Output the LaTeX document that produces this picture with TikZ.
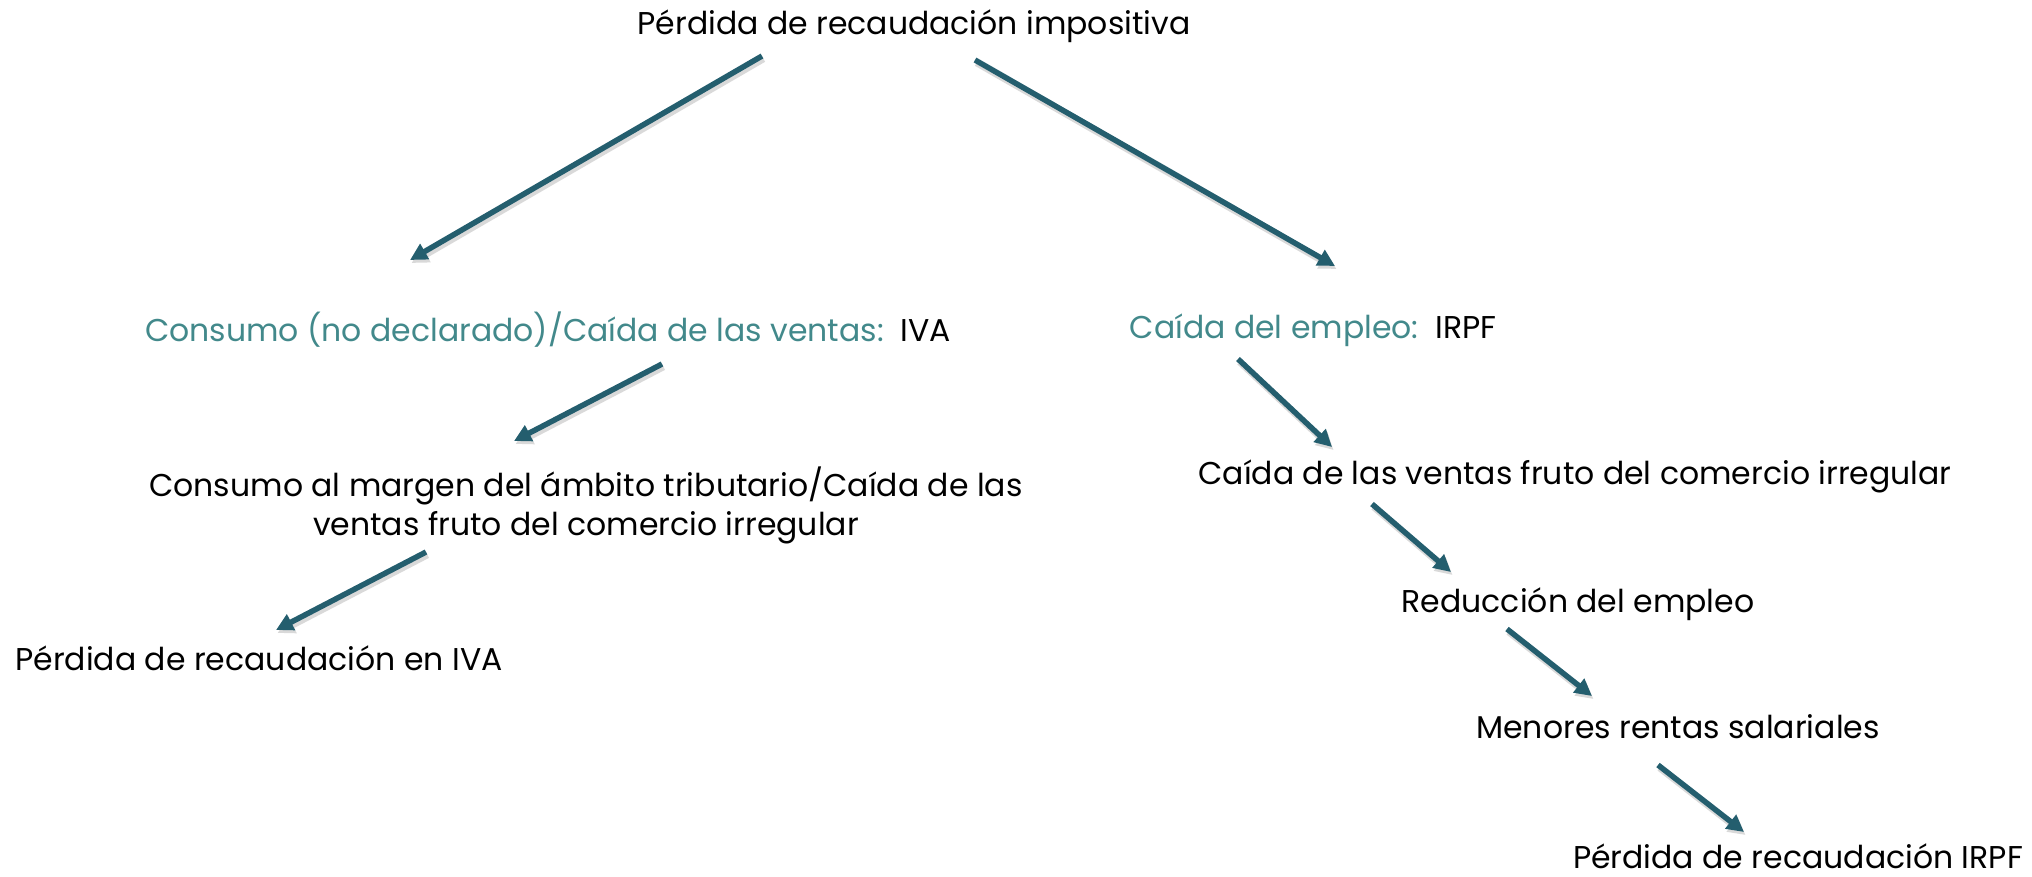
\documentclass[tikz,border=0pt]{standalone}
\usepackage{fontspec}
\setmainfont{Poppins}
\usetikzlibrary{arrows.meta}
\definecolor{tealtxt}{RGB}{66,137,139}
\definecolor{arrowc}{RGB}{36,94,110}
\tikzset{
  lbl/.style={inner sep=0pt, text=black, font=\fontsize{31.5}{39}\selectfont},
  conn/.style={draw=arrowc, line width=5.5pt, -{Triangle[length=17pt,width=17pt]}},
  shad/.style={draw=black!15, line width=6.5pt, -{Triangle[length=17pt,width=17pt]}}
}
\begin{document}
\begin{tikzpicture}[x=1pt,y=-1pt]
\useasboundingbox (0,0) rectangle (2032,876);
% nodes
\node[lbl] (top) at (914,26) {Pérdida de recaudación impositiva};
\node[lbl] (iva) at (548,330) {{\color{tealtxt}Consumo (no declarado)/Caída de las ventas:}\ \ IVA};
\node[lbl] (irpf) at (1313,330) {{\color{tealtxt}Caída del empleo:}\ \ IRPF};
\node[lbl, align=center] (cons) at (586,505) {Consumo al margen del ámbito tributario/Caída de las\\ventas fruto del comercio irregular};
\node[lbl] (caida) at (1575,476) {Caída de las ventas fruto del comercio irregular};
\node[lbl] (piva) at (259,658) {Pérdida de recaudación en IVA};
\node[lbl] (red) at (1578,604) {Reducción del empleo};
\node[lbl] (men) at (1678,727) {Menores rentas salariales};
\node[lbl] (pirpf) at (1798,856) {Pérdida de recaudación IRPF};
% arrow endpoints
\coordinate (a1s) at (762,56);   \coordinate (a1e) at (410,260);
\coordinate (a2s) at (975,60);   \coordinate (a2e) at (1335,266);
\coordinate (a3s) at (662,364);  \coordinate (a3e) at (514,441);
\coordinate (a4s) at (1238,359); \coordinate (a4e) at (1332,447);
\coordinate (a5s) at (426,552);  \coordinate (a5e) at (276,630);
\coordinate (a6s) at (1372,504); \coordinate (a6e) at (1451,572);
\coordinate (a7s) at (1507,629); \coordinate (a7e) at (1592,696);
\coordinate (a8s) at (1658,765); \coordinate (a8e) at (1744,832);
% shadows
\foreach \i in {1,...,8}{
  \draw[shad, transform canvas={shift={(1.5pt,-3pt)}}] (a\i s) -- (a\i e);
}
% arrows
\foreach \i in {1,...,8}{
  \draw[conn] (a\i s) -- (a\i e);
}
\end{tikzpicture}
\end{document}
